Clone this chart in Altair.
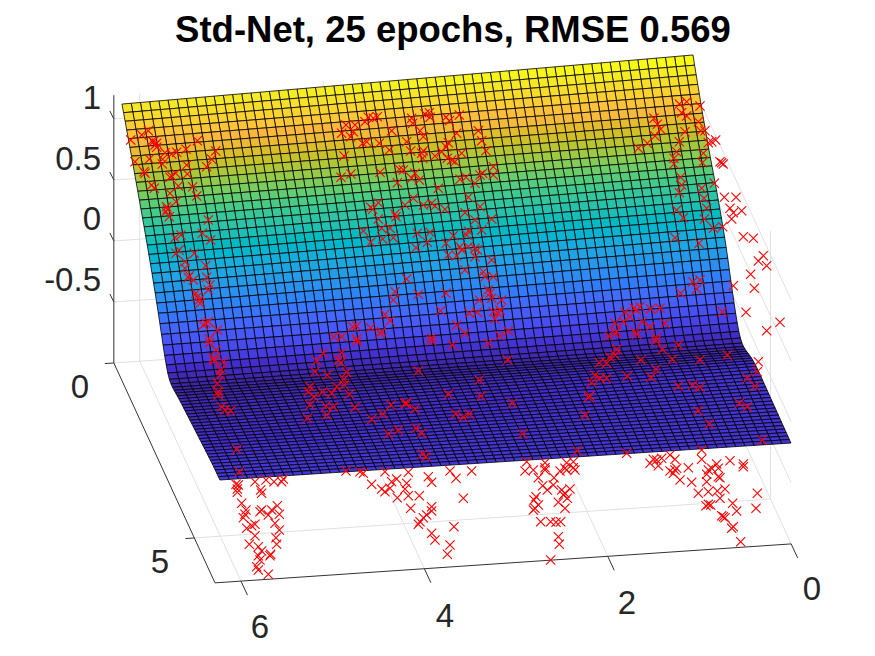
import altair as alt
import pandas as pd

# ---- surface values: height above the floor, per row (back to front)
profile_left = [2.118,2.076,2.034,1.991,1.949,1.906,1.863,1.820,1.777,1.734,1.690,1.646,1.602,1.557,1.513,1.467,1.421,1.373,1.325,1.275,1.224,1.172,1.118,1.063,1.006,0.947,0.888,0.832,0.783,0.745,0.722,0.714,0.714,0.718,0.724,0.730,0.735,0.739,0.743,0.746,0.750,0.753,0.757,0.760,0.764,0.767,0.771,0.774,0.778,0.781,0.785,0.788,0.792,0.795,0.798,0.801,0.804,0.807,0.809,0.811,0.812,0.814,0.815]
profile_right = [2.205,2.150,2.100,2.050,2.000,1.950,1.900,1.855,1.810,1.765,1.720,1.680,1.640,1.600,1.560,1.520,1.475,1.430,1.385,1.335,1.285,1.230,1.170,1.105,1.040,0.978,0.918,0.862,0.812,0.772,0.745,0.733,0.733,0.740,0.750,0.762,0.772,0.782,0.790,0.796,0.800,0.802,0.803,0.803,0.803,0.803,0.803,0.803,0.803,0.803,0.803,0.803,0.803,0.803,0.803,0.803,0.803,0.803,0.803,0.803,0.803,0.803,0.803]

parula = ["#3e26a8","#4029b4","#422cbf","#432ccb","#4537d5","#463bde","#4741e5","#4747eb","#484df0","#4752f4","#4758f8","#465efb","#4563fd","#4269fe","#3e6fff","#3875fe","#327bfc","#2f81fa","#2d87f7","#2d8cf3","#2b91ef","#2796eb","#259be7","#23a0e5","#20a5e3","#1ca9df","#18addb","#12b1d6","#08b5d0","#01b8ca","#02bac3","#0bbdbc","#19bfb6","#24c1ae","#2cc3a7","#31c69f","#37c897","#3fca8e","#4acb84","#57cc7a","#64cd6f","#72cd64","#81cc59","#8fcb4e","#9dc943","#abc739","#b9c431","#c5c22a","#d1bf27","#dcbd29","#e6bb2d","#efba36","#f8ba3d","#feb63c","#fec338","#fec934","#fccf30","#f9d62d","#f7dc2a","#f5e327","#f5e924","#f5ef20","#f7f51b","#f9fb15"]

x_tick_labels = ["0", "2", "4", "6"]
z_tick_labels = ["-0.5", "0", "0.5", "1"]
y_tick_labels = ["0", "5"]
title_text = "Std-Net, 25 epochs, RMSE 0.569"

# ---- red crosses in small regions: region origin, then positions at 3x
pts_a = [(62,150),(95,135),(115,122),(127,152),(135,165),(140,172),(130,155),(165,188),(185,192),(200,187),(228,178),(262,152),(317,183),(305,208),(290,230),(75,215),(118,207),(157,222),(158,208),(230,225),(232,252),(197,250),(180,262),(185,258),(102,245),(105,250),(125,285),(133,295),(205,288),(248,290),(180,310),(260,318),(198,335),(170,350),(172,358),(168,365),(140,160)]
pts_b = [(18,105),(45,105),(40,125),(5,130),(32,140),(75,95),(85,82),(100,85),(112,80),(155,122),(68,160),(80,155),(118,160),(148,180),(12,198),(200,155),(212,183),(215,85),(218,100),(255,72),(268,68),(270,82),(240,122),(250,140),(318,82),(328,92),(358,75),(350,130),(415,122),(425,152),(438,182),(325,158),(318,170),(305,185),(285,198),(250,182),(245,190),(248,205),(365,190),(322,205),(335,210),(345,215),(120,247),(178,238),(190,240),(225,250),(215,265),(238,270),(172,278),(33,252),(3,262),(360,268),(378,262),(405,280),(420,255),(428,250),(460,230),(460,255),(295,295),(220,325),(385,322),(195,345),(250,345),(275,340),(285,348),(315,358),(115,338),(92,352),(98,358),(420,350),(375,368),(165,372)]
pts_c = [(328,42),(350,35),(390,48),(335,68),(350,78),(252,85),(262,103),(272,118),(255,138),(232,160),(205,175),(385,95),(345,125),(392,122),(405,122),(328,155),(415,158),(425,155),(437,150),(320,185),(312,205),(312,222),(400,190),(397,218),(455,218),(460,222),(450,215),(332,262),(335,285),(328,308),(395,295),(433,280),(402,325),(463,322),(498,322),(410,355),(480,355),(490,368),(515,362),(320,360)]
pts_d = [(178,5),(295,15),(195,68),(213,60),(277,55),(302,75),(207,105),(198,115),(253,115),(225,140),(225,160),(287,152),(238,182),(235,188),(250,195),(290,187),(300,210),(295,225),(258,235),(262,245),(268,255),(270,265),(287,325),(280,330),(295,320),(322,345),(298,372),(672,365)]
pts_e = [(70,48),(92,82),(115,12),(168,5),(125,40),(150,40),(128,72),(160,68),(232,55),(270,52),(262,82),(228,98),(318,85),(340,62),(385,48),(380,60),(405,15),(425,45),(455,12),(360,95),(385,95),(365,105),(350,122),(325,120),(405,100),(412,105),(405,125),(455,135),(375,165),(430,170),(435,185),(460,185),(200,192),(165,230),(160,255),(235,238),(318,235),(445,225),(450,235),(455,250),(418,255),(485,255),(135,298),(150,317),(302,287),(388,295),(412,292),(460,290),(480,285),(475,295),(465,312),(350,330),(375,355),(505,348),(480,362),(92,338),(125,350),(120,355),(38,335),(50,333),(275,368),(5,365),(50,372)]
pts_f = [(340,8),(403,12),(485,12),(430,40),(458,35),(315,68),(387,85),(520,65),(550,70),(580,122),(565,138),(590,152),(542,178),(490,212),(553,220),(390,195),(368,200),(380,222),(332,235),(457,290),(528,292),(630,322),(590,347),(285,325),(270,280),(242,282),(210,275),(192,280),(200,285),(165,292),(180,305),(160,320),(135,325),(217,320),(240,335),(195,350),(200,358),(140,350),(135,355),(115,362),(258,368)]
pts_g = [(298,8),(318,30),(310,55),(312,62),(340,65),(332,90),(330,105),(322,130),(325,155),(325,165),(335,200),(345,210),(362,212),(380,328),(640,40),(620,62),(615,95),(652,105),(600,140),(595,155),(638,155),(665,160),(680,140),(612,170),(600,195),(648,198),(670,200),(650,225),(592,235),(685,60)]
pts_h = [(52,5),(5,38),(3,68),(20,97),(12,118),(12,135),(28,163),(45,202),(153,195),(128,222),(95,238),(145,282),(175,270),(228,265),(245,280),(195,190),(200,190),(225,207),(235,92),(248,342),(258,350),(337,15),(445,10),(503,60),(418,120),(325,163),(423,168),(347,222),(370,232),(388,222),(517,190),(548,282),(275,2),(560,365),(615,368),(680,368)]
pts_i = [(140,28),(135,45),(120,52),(88,68),(110,70),(213,60),(277,28),(325,15),(307,58),(390,60),(472,45),(258,88),(243,112),(172,108),(75,105),(65,128),(90,115),(110,115),(325,138),(368,135),(390,142),(532,115),(555,138),(565,65),(562,95),(508,190),(532,200),(60,168),(55,172),(45,225),(385,212),(418,252),(577,300),(22,333),(258,2),(395,330),(395,358),(480,362),(520,372),(315,358),(300,345),(275,355),(250,358),(260,360),(170,340),(240,370),(10,365),(440,372)]
pts_j = [(118,20),(115,60),(112,72),(108,58),(112,82),(165,50),(182,75),(185,85),(198,45),(222,50),(250,42),(245,50),(125,115),(138,135),(135,148),(130,158),(185,135),(180,140),(215,135),(232,122),(238,148),(205,150),(225,175),(165,178),(155,182),(140,190),(165,212),(238,195),(228,218),(230,238),(148,238),(175,245),(185,258),(212,268),(210,272),(175,272),(180,285),(170,305),(175,315),(205,328),(490,25),(480,20),(515,58),(545,72),(555,80),(575,50),(590,42),(570,70),(592,98),(620,55),(625,92),(658,92),(632,130),(660,170),(655,178),(670,158),(680,150),(625,22),(685,35),(615,72),(555,20),(438,18)]
pts_k = [(60,18),(78,40),(125,18),(5,52),(100,100),(5,125),(5,138),(72,185),(5,205),(15,225),(60,240),(52,268),(285,18),(310,15),(345,8),(345,15),(325,38),(338,62),(352,75),(372,38),(370,60),(390,18),(405,10),(410,15),(435,15),(430,8),(395,75),(405,85),(420,72),(400,90),(385,112),(405,130),(412,100),(318,95),(312,105),(325,120),(315,130),(310,135),(332,170),(362,170),(378,172),(392,170),(385,215),(388,238),(362,285)]
pts_l = [(145,8),(90,18),(55,2),(110,10),(105,15),(100,25),(120,45),(155,52),(205,15),(215,10),(235,35),(240,38),(200,28),(200,50),(235,10),(310,5),(175,85),(205,80),(232,78),(255,72),(240,100),(205,118),(212,120),(198,122),(278,115),(290,138),(250,155),(255,158),(245,152),(275,190),(280,185),(302,230),(352,85),(348,130)]
regions = [((110,90),pts_a),((340,90),pts_b),((570,90),pts_c),((110,215),pts_d),((340,215),pts_e),((570,215),pts_f),((110,340),pts_g),((340,340),pts_h),((570,340),pts_i),((200,465),pts_j),((430,465),pts_k),((640,465),pts_l)]
cross_rows = [{"px": o[0] + a / 3, "py": o[1] + b / 3} for o, pts in regions for a, b in pts]

TWO_PI = 6.2832

def axis_point(x, y, z):
    """Box of the 3-D axes on the page (a parallel view)."""
    return (690 - 91.7 * x + 16.1 * y, 324 + 6.2 * x + 35 * y - 122 * (z + 1))

def surf_point(ix, iy, h):
    x, y = ix * 0.1, iy * 0.1
    return [693 - 92.1 * x + 15.8 * y, 324 + 6.2 * x + 35 * y - 122 * h]

def height(ix, iy):
    w = ix / 62
    return profile_right[iy] * (1 - w) + profile_left[iy] * w

features = []
for iy in range(62):
    for ix in range(62):
        corners = [(ix, iy), (ix + 1, iy), (ix + 1, iy + 1), (ix, iy + 1), (ix, iy)]
        ring = [surf_point(a, b, height(a, b)) for a, b in corners]
        features.append({"type": "Feature",
                         "geometry": {"type": "Polygon", "coordinates": [ring]},
                         "properties": {"h": height(ix, iy)}})

segs_grid = []
def seg(store, a, b):
    store.append({"px": a[0], "py": a[1], "px2": b[0], "py2": b[1]})

ZTOP = 1.195
for xv in [0, 2, 4, 6]:
    seg(segs_grid, axis_point(xv, 0, -1), axis_point(xv, TWO_PI, -1))
    seg(segs_grid, axis_point(xv, 0, -1), axis_point(xv, 0, ZTOP))
for yv in [0, 5]:
    seg(segs_grid, axis_point(0, yv, -1), axis_point(TWO_PI, yv, -1))
    seg(segs_grid, axis_point(0, yv, -1), axis_point(0, yv, ZTOP))
for zv in [-0.5, 0, 0.5, 1]:
    seg(segs_grid, axis_point(0, 0, zv), axis_point(TWO_PI, 0, zv))
    seg(segs_grid, axis_point(0, 0, zv), axis_point(0, TWO_PI, zv))

segs_axis = []
seg(segs_axis, axis_point(TWO_PI, 0, -1), axis_point(TWO_PI, 0, ZTOP))
seg(segs_axis, axis_point(TWO_PI, 0, -1), axis_point(TWO_PI, TWO_PI, -1))
seg(segs_axis, axis_point(TWO_PI, TWO_PI, -1), axis_point(0, TWO_PI, -1))
for xv in [0, 2, 4, 6]:
    p = axis_point(xv, TWO_PI, -1)
    seg(segs_axis, p, (p[0] + 6.5, p[1] + 14))
for yv in [0, 5]:
    p = axis_point(TWO_PI, yv, -1)
    seg(segs_axis, p, (p[0] - 9, p[1] + 0.6))
for zv in [-0.5, 0, 0.5, 1]:
    p = axis_point(TWO_PI, 0, zv)
    seg(segs_axis, p, (p[0] - 4, p[1] - 8))

labels = pd.DataFrame(
    [{"px": a, "py": b, "t": t} for t, a, b in zip(x_tick_labels, [812, 627, 445, 260], [590, 604, 617, 628])]
    + [{"px": a, "py": b, "t": t} for t, a, b in zip(y_tick_labels, [80, 160], [388, 563])]
)
z_labels = pd.DataFrame({"px": [101, 101, 101, 101], "py": [281, 220, 160, 99], "t": z_tick_labels})

X = alt.X("px:Q", scale=alt.Scale(domain=[8, 867], zero=False, nice=False), axis=None)
Y = alt.Y("py:Q", scale=alt.Scale(domain=[8, 648], reverse=True, zero=False, nice=False), axis=None)

grid = alt.Chart(pd.DataFrame(segs_grid)).mark_rule(color="#e0e0e0", strokeWidth=1).encode(x=X, y=Y, x2="px2:Q", y2="py2:Q")
axes = alt.Chart(pd.DataFrame(segs_axis)).mark_rule(color="#333333", strokeWidth=1).encode(x=X, y=Y, x2="px2:Q", y2="py2:Q")

surface = alt.Chart(
    alt.InlineData(values={"type": "FeatureCollection", "features": features},
                   format=alt.DataFormat(property="features", type="json"))
).mark_geoshape(stroke="#000000", strokeWidth=0.8).encode(
    color=alt.Color("properties.h:Q", scale=alt.Scale(domain=[0.714, 2.205], range=parula, nice=False, zero=False), legend=None)
).project(type="identity", scale=1, translate=[-8, -8])

crosses = alt.Chart(pd.DataFrame(cross_rows)).mark_point(
    shape="M-1,-1L1,1M-1,1L1,-1", size=85, filled=False, stroke="#ff0000", fillOpacity=0, strokeOpacity=1, strokeWidth=1.1, opacity=1
).encode(x=X, y=Y)

FONT = "Liberation Sans"
tick_text = alt.Chart(labels).mark_text(font=FONT, fontSize=33, color="#262626", align="center", baseline="middle").encode(x=X, y=Y, text="t:N")
z_text = alt.Chart(z_labels).mark_text(font=FONT, fontSize=33, color="#262626", align="right", baseline="middle").encode(x=X, y=Y, text="t:N")
title = alt.Chart(pd.DataFrame({"px": [453], "py": [31], "t": [title_text]})).mark_text(
    font=FONT, fontSize=36.5, fontWeight="bold", color="#000000", align="center", baseline="middle"
).encode(x=X, y=Y, text="t:N")

chart = alt.layer(grid, axes, surface, crosses, tick_text, z_text, title).properties(
    width=859, height=640, padding=0, autosize=alt.AutoSizeParams(type="none"), background="white"
).configure_view(stroke=None)

chart.save("out.html", embed_options={"renderer": "svg", "actions": False})
